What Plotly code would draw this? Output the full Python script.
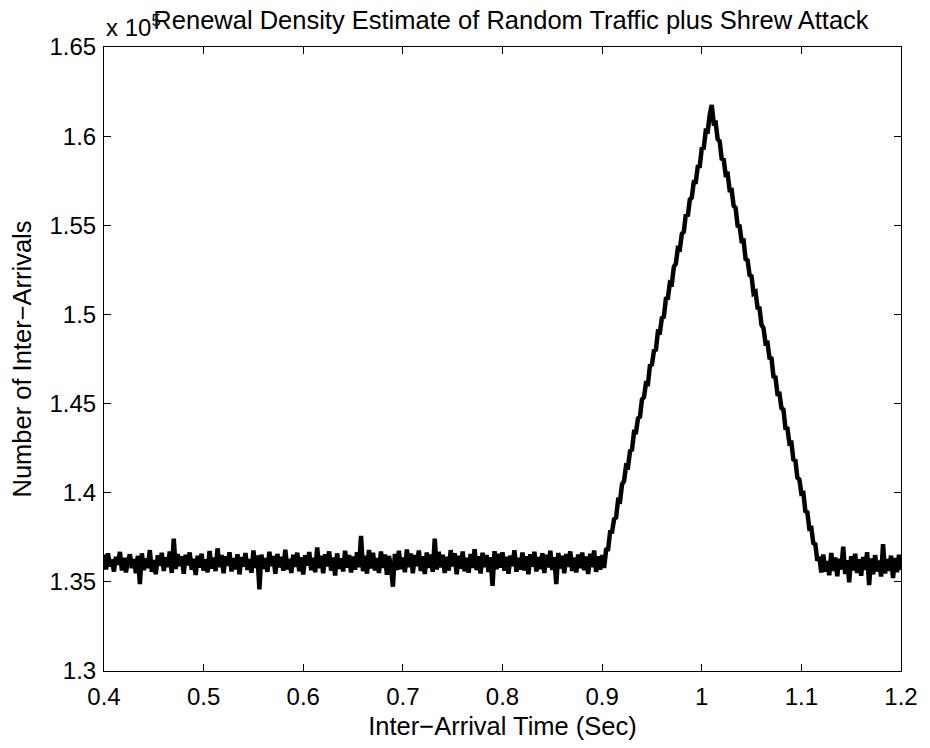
import plotly.graph_objects as go

# ---- data (y values in units of 10^5 inter-arrivals) ----
t_start = 0.4        # first sample time (s)
t_step = 0.002       # sample spacing (s)

baseline_before = [
    1.3653, 1.3570, 1.3660, 1.3586, 1.3626, 1.3558, 1.3641, 1.3596, 1.3668, 1.3564,
    1.3635, 1.3553, 1.3618, 1.3654, 1.3577, 1.3628, 1.3548, 1.3646, 1.3488, 1.3660,
    1.3566, 1.3632, 1.3578, 1.3678, 1.3556, 1.3622, 1.3543, 1.3649, 1.3590, 1.3663,
    1.3561, 1.3638, 1.3583, 1.3670, 1.3550, 1.3743, 1.3572, 1.3656, 1.3588, 1.3643,
    1.3546, 1.3652, 1.3593, 1.3665, 1.3568, 1.3630, 1.3538, 1.3647, 1.3580, 1.3658,
    1.3563, 1.3626, 1.3553, 1.3673, 1.3575, 1.3636, 1.3560, 1.3688, 1.3583, 1.3650,
    1.3548, 1.3644, 1.3590, 1.3666, 1.3558, 1.3633, 1.3570, 1.3655, 1.3542, 1.3639,
    1.3586, 1.3662, 1.3567, 1.3628, 1.3551, 1.3676, 1.3578, 1.3648, 1.3458, 1.3653,
    1.3573, 1.3634, 1.3556, 1.3669, 1.3589, 1.3645, 1.3545, 1.3657, 1.3581, 1.3641,
    1.3562, 1.3680, 1.3570, 1.3629, 1.3550, 1.3652, 1.3584, 1.3664, 1.3559, 1.3638,
    1.3541, 1.3649, 1.3592, 1.3667, 1.3565, 1.3635, 1.3554, 1.3693, 1.3577, 1.3646,
    1.3548, 1.3655, 1.3587, 1.3671, 1.3563, 1.3637, 1.3536, 1.3660, 1.3573, 1.3632,
    1.3558, 1.3674, 1.3580, 1.3651, 1.3552, 1.3642, 1.3568, 1.3666, 1.3582, 1.3758,
    1.3560, 1.3647, 1.3546, 1.3679, 1.3575, 1.3663, 1.3564, 1.3634, 1.3550, 1.3670,
    1.3578, 1.3653, 1.3540, 1.3645, 1.3586, 1.3473, 1.3657, 1.3567, 1.3674, 1.3572,
    1.3636, 1.3554, 1.3682, 1.3583, 1.3659, 1.3548, 1.3650, 1.3589, 1.3676, 1.3561,
    1.3643, 1.3544, 1.3665, 1.3578, 1.3654, 1.3556, 1.3743, 1.3570, 1.3668, 1.3581,
    1.3652, 1.3550, 1.3640, 1.3563, 1.3678, 1.3587, 1.3661, 1.3542, 1.3647, 1.3574,
    1.3670, 1.3559, 1.3635, 1.3551, 1.3656, 1.3578, 1.3683, 1.3566, 1.3644, 1.3547,
    1.3663, 1.3583, 1.3651, 1.3555, 1.3638, 1.3478, 1.3672, 1.3571, 1.3657, 1.3580,
    1.3666, 1.3562, 1.3641, 1.3546, 1.3648, 1.3588, 1.3677, 1.3557, 1.3635, 1.3569,
    1.3664, 1.3564, 1.3643, 1.3543, 1.3655, 1.3585, 1.3669, 1.3558, 1.3639, 1.3572,
    1.3660, 1.3550, 1.3652, 1.3581, 1.3674, 1.3567, 1.3638, 1.3488, 1.3662, 1.3575,
    1.3646, 1.3548, 1.3657, 1.3584, 1.3671, 1.3561, 1.3636, 1.3553, 1.3653, 1.3577,
    1.3665, 1.3565, 1.3642, 1.3544, 1.3658, 1.3582, 1.3676, 1.3556, 1.3644, 1.3568,
    1.3650, 1.3578,
]

ramp_up = [
    1.3680, 1.3682, 1.3779, 1.3781, 1.3852, 1.3861, 1.3958, 1.3953, 1.4048, 1.4065,
    1.4151, 1.4146, 1.4233, 1.4242, 1.4341, 1.4340, 1.4417, 1.4426, 1.4523, 1.4536,
    1.4613, 1.4610, 1.4714, 1.4719, 1.4796, 1.4803, 1.4904, 1.4901, 1.4980, 1.4987,
    1.5088, 1.5092, 1.5177, 1.5172, 1.5267, 1.5284, 1.5371, 1.5366, 1.5451, 1.5464,
    1.5560, 1.5551, 1.5644, 1.5656, 1.5743, 1.5743, 1.5828, 1.5831, 1.5930, 1.5934,
    1.6029, 1.6026, 1.6119,
]

peak = [1.6175]

ramp_down = [
    1.6071, 1.6074, 1.5983, 1.5971, 1.5874, 1.5869, 1.5784, 1.5788, 1.5697, 1.5698,
    1.5609, 1.5597, 1.5498, 1.5495, 1.5412, 1.5414, 1.5311, 1.5304, 1.5221, 1.5214,
    1.5118, 1.5126, 1.5038, 1.5035, 1.4940, 1.4924, 1.4838, 1.4840, 1.4757, 1.4753,
    1.4652, 1.4647, 1.4554, 1.4555, 1.4475, 1.4466, 1.4363, 1.4361, 1.4276, 1.4279,
    1.4186, 1.4181, 1.4084, 1.4074, 1.3995, 1.3998, 1.3897, 1.3890, 1.3798, 1.3801,
    1.3717, 1.3711, 1.3618,
]

baseline_after = [
    1.3640, 1.3552, 1.3654, 1.3557, 1.3617, 1.3537, 1.3662, 1.3562, 1.3636, 1.3532,
    1.3630, 1.3570, 1.3697, 1.3544, 1.3622, 1.3497, 1.3644, 1.3564, 1.3658, 1.3550,
    1.3627, 1.3534, 1.3640, 1.3567, 1.3666, 1.3482, 1.3632, 1.3542, 1.3650, 1.3559,
    1.3619, 1.3530, 1.3712, 1.3547, 1.3628, 1.3562, 1.3647, 1.3522, 1.3634, 1.3554,
    1.3652, 1.3567,
]

x_tick_vals = [0.4, 0.5, 0.6, 0.7, 0.8, 0.9, 1.0, 1.1, 1.2]
x_tick_text = ["0.4", "0.5", "0.6", "0.7", "0.8", "0.9", "1", "1.1", "1.2"]
y_tick_vals = [1.3, 1.35, 1.4, 1.45, 1.5, 1.55, 1.6, 1.65]
y_tick_text = ["1.3", "1.35", "1.4", "1.45", "1.5", "1.55", "1.6", "1.65"]

# ---- assemble series ----
y = baseline_before + ramp_up + peak + ramp_down + baseline_after
x = [round(t_start + t_step * i, 4) for i in range(len(y))]

FONT = "Liberation Sans, Arial, Helvetica, sans-serif"
FS_TICK = 24
FS_LABEL = 25.5

fig = go.Figure()
fig.add_trace(go.Scatter(
    x=x, y=y, mode="lines",
    line=dict(color="black", width=4.5),
    showlegend=False, hoverinfo="skip",
))

axis_common = dict(
    showgrid=False, zeroline=False,
    showline=True, linecolor="black", linewidth=1,
    mirror="ticks", ticks="inside", ticklen=7, tickwidth=1, tickcolor="black",
    tickfont=dict(family=FONT, size=FS_TICK, color="black"),
)

# the page body adds an 8px offset at top-left, so the figure is 8px smaller than the window
fig.update_layout(
    width=922, height=740,
    paper_bgcolor="white", plot_bgcolor="white",
    margin=dict(l=96, r=21, t=39, b=68),
    title=dict(
        text="Renewal Density Estimate of Random Traffic plus Shrew Attack",
        font=dict(family=FONT, size=FS_LABEL, color="black"),
        x=503 / 922, xref="container", xanchor="center",
        y=1 - 3 / 740, yref="container", yanchor="top",
    ),
    xaxis=dict(
        range=[0.4, 1.2], tickvals=x_tick_vals, ticktext=x_tick_text,
        ticklabelstandoff=4,
        title=dict(text="Inter\u2212Arrival Time (Sec)", standoff=8,
                   font=dict(family=FONT, size=FS_LABEL, color="black")),
        **axis_common,
    ),
    yaxis=dict(
        range=[1.3, 1.65], tickvals=y_tick_vals, ticktext=y_tick_text,
        ticklabelstandoff=2,
        title=dict(text="Number of Inter\u2212Arrivals", standoff=10,
                   font=dict(family=FONT, size=FS_LABEL, color="black")),
        **axis_common,
    ),
    annotations=[dict(
        text="x 10<sup>5</sup>", xref="paper", yref="paper",
        x=0, y=1, xanchor="left", yanchor="bottom", yshift=4,
        showarrow=False, font=dict(family=FONT, size=FS_TICK, color="black"),
    )],
)

fig.write_html("out.html")
